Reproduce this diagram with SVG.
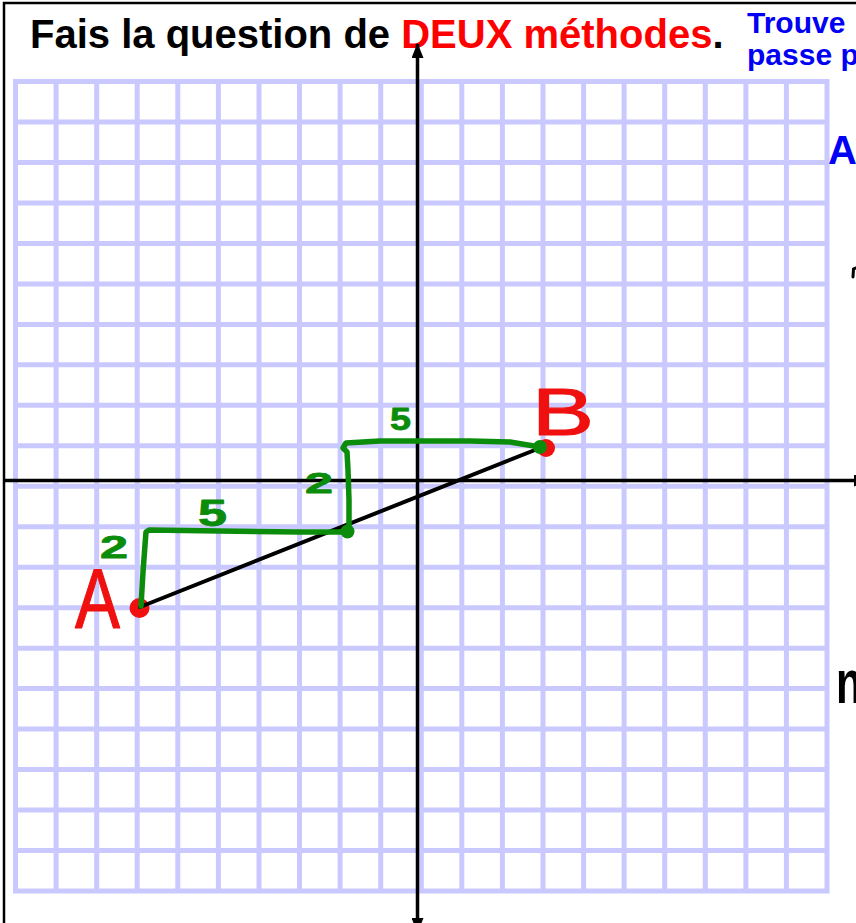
<svg xmlns="http://www.w3.org/2000/svg" width="856" height="923" viewBox="0 0 856 923">
<style>
.title{font-family:"Liberation Sans",Arial,sans-serif;font-weight:bold;font-size:40px}
.blue{font-family:"Liberation Sans",Arial,sans-serif;font-weight:bold;fill:#0000f5}
.grid{fill:none;stroke:#c9c9ff;stroke-width:5}
.axis{stroke:#000;stroke-width:3.5;fill:none}
.hand-red{font-family:"Liberation Sans",Arial,sans-serif;fill:#f01010;stroke:#f01010;stroke-width:1.2;stroke-linejoin:round}
.hand-green{font-family:"Liberation Sans",Arial,sans-serif;font-weight:bold;fill:#0b8c0b;stroke:#0b8c0b;stroke-width:0.8;stroke-linejoin:round}
.greenline{fill:none;stroke:#0b8c0b;stroke-width:5.5;stroke-linecap:round;stroke-linejoin:round}
</style>
<defs>
<marker id="arr" markerUnits="userSpaceOnUse" markerWidth="16" markerHeight="12" refX="14" refY="6" orient="auto">
<path d="M0,0 L15,6 L0,12 z" fill="#000"/>
</marker>
</defs>
<rect x="0" y="0" width="856" height="923" fill="#fff"/>
<rect x="4" y="3" width="900" height="960" fill="none" stroke="#000" stroke-width="2.5"/>

<g id="grid">
<rect class="grid" x="15.5" y="81.5" width="811.5" height="809.5"/>
<path class="grid" d="M56.1,81.5V891 M96.7,81.5V891 M137.2,81.5V891 M177.8,81.5V891 M218.4,81.5V891 M259,81.5V891 M299.5,81.5V891 M340.1,81.5V891 M380.7,81.5V891 M421.3,81.5V891 M461.8,81.5V891 M502.4,81.5V891 M543,81.5V891 M583.6,81.5V891 M624.1,81.5V891 M664.7,81.5V891 M705.3,81.5V891 M745.9,81.5V891 M786.4,81.5V891
M15.5,122H827 M15.5,162.5H827 M15.5,202.9H827 M15.5,243.4H827 M15.5,283.9H827 M15.5,324.4H827 M15.5,364.8H827 M15.5,405.3H827 M15.5,445.8H827 M15.5,486.3H827 M15.5,526.7H827 M15.5,567.2H827 M15.5,607.7H827 M15.5,648.2H827 M15.5,688.6H827 M15.5,729.1H827 M15.5,769.6H827 M15.5,810.1H827 M15.5,850.5H827"/>
</g>

<g id="title">
<text class="title" x="30" y="48"><tspan fill="#000">Fais la question de </tspan><tspan fill="#ff0000">DEUX méthodes</tspan><tspan fill="#000">.</tspan></text>
</g>
<g id="instruction">
<text class="blue" x="747" y="33" font-size="30">Trouve</text>
<text class="blue" x="747" y="65" font-size="30">passe p</text>
<text class="blue" x="828" y="164" font-size="40">A</text>
</g>

<g id="connectors">
<line class="axis" x1="5" y1="480.5" x2="868" y2="480.5" marker-end="url(#arr)"/>
<line class="axis" x1="417.5" y1="480.5" x2="417.5" y2="44" marker-end="url(#arr)"/>
<line class="axis" x1="417.5" y1="480.5" x2="417.5" y2="932" marker-end="url(#arr)"/>
</g>

<g id="pointA">
<circle cx="139.5" cy="608" r="10" fill="#f01010"/>
</g>
<g id="pointB">
<circle cx="546" cy="448" r="9" fill="#f01010"/>
</g>

<g id="segments">
<line x1="140" y1="607" x2="540" y2="448" stroke="#000" stroke-width="4" stroke-linecap="round"/>
<path class="greenline" d="M141,606 L143,572 L145,545 L146,532 L149,530 L220,531 L300,532 L347,532"/>
<path class="greenline" d="M349,531 L349,500 L348,470 L347,452 L343,448 L346,443 L380,441 L470,441 L510,442 L540,447"/>
<circle cx="347.5" cy="531.5" r="7" fill="#0b8c0b"/>
<circle cx="540" cy="447" r="7" fill="#0b8c0b"/>
</g>

<g id="labels">
<text class="hand-red" x="75" y="628" font-size="86" textLength="45" lengthAdjust="spacingAndGlyphs">A</text>
<text class="hand-red" x="532" y="435" font-size="67" textLength="62" lengthAdjust="spacingAndGlyphs">B</text>
<text class="hand-green" x="100" y="558" font-size="32" textLength="28" lengthAdjust="spacingAndGlyphs">2</text>
<text class="hand-green" x="198" y="526" font-size="36" textLength="29" lengthAdjust="spacingAndGlyphs">5</text>
<text class="hand-green" x="305" y="493" font-size="30" textLength="28" lengthAdjust="spacingAndGlyphs">2</text>
<text class="hand-green" x="390" y="430" font-size="32" textLength="21" lengthAdjust="spacingAndGlyphs">5</text>
</g>

<g id="notes">
<text x="836" y="703" font-family="Liberation Sans,Arial,sans-serif" font-weight="bold" font-size="62" fill="#000" textLength="26" lengthAdjust="spacingAndGlyphs">n</text>
<path d="M853,277 L853.5,269 L856,268" fill="none" stroke="#000" stroke-width="3" stroke-linecap="round"/>
</g>
</svg>
